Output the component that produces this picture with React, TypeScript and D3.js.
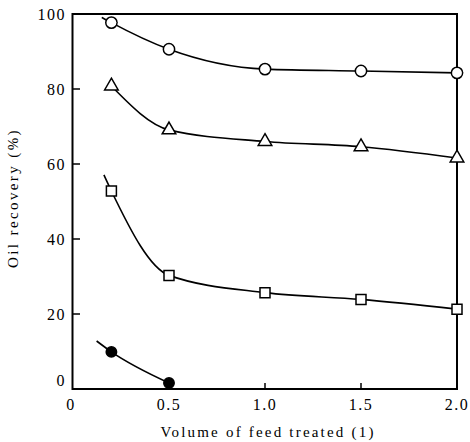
import React, { useEffect, useRef } from 'react';
import * as d3 from 'd3';

// volume of feed treated (l)
const volume = [0.2, 0.5, 1.0, 1.5, 2.0];
const volumeDot = [0.2, 0.5];

// oil recovery (%)
const recCircle = [97.7, 90.6, 85.3, 84.8, 84.3];
const recTriangle = [80.8, 69.1, 66.0, 64.6, 61.6];
const recSquare = [52.8, 30.3, 25.7, 23.9, 21.3];
const recDot = [9.9, 1.6];

// where the fitted curves start, left of the first marker
const leadCircle: [number, number] = [0.15, 99.1];
const leadSquare: [number, number] = [0.161, 57.1];
const leadDot: [number, number] = [0.123, 12.8];

const xTicks = [0, 0.5, 1.0, 1.5, 2.0];
const yTicks = [0, 20, 40, 60, 80, 100];

const FONT = "'Times New Roman', 'Liberation Serif', 'DejaVu Serif', serif";

const App: React.FC = () => {
  const ref = useRef<SVGSVGElement | null>(null);

  useEffect(() => {
    if (!ref.current) return;
    const svg = d3.select(ref.current);
    svg.selectAll('*').remove();

    const x = d3.scaleLinear().domain([0, 2]).range([73, 457]);
    const y = d3.scaleLinear().domain([0, 100]).range([389, 14]);

    // frame
    svg.append('rect')
      .attr('x', x(0) - 0.5)
      .attr('y', y(100))
      .attr('width', x(2) - x(0) + 0.5)
      .attr('height', y(0) - y(100))
      .attr('fill', 'none')
      .attr('stroke', '#000')
      .attr('stroke-width', 2);

    // inward ticks
    svg.selectAll('.yt')
      .data(yTicks.filter((d) => d > 0 && d < 100))
      .enter()
      .append('line')
      .attr('x1', x(0))
      .attr('x2', x(0) + 7)
      .attr('y1', (d) => y(d))
      .attr('y2', (d) => y(d))
      .attr('stroke', '#000')
      .attr('stroke-width', 1.5);

    svg.selectAll('.xt')
      .data(xTicks.filter((d) => d > 0 && d < 2))
      .enter()
      .append('line')
      .attr('x1', (d) => x(d))
      .attr('x2', (d) => x(d))
      .attr('y1', y(0))
      .attr('y2', y(0) - 6)
      .attr('stroke', '#000')
      .attr('stroke-width', 1.5);

    // tick labels
    svg.selectAll('.yl')
      .data(yTicks)
      .enter()
      .append('text')
      .attr('x', 66)
      .attr('y', (d) => y(d) + (d === 0 ? -9 : 0))
      .attr('dy', '0.35em')
      .attr('text-anchor', 'end')
      .style('font-family', FONT)
      .attr('font-size', 16)
      .attr('letter-spacing', 1.5)
      .text((d) => String(d));

    svg.selectAll('.xl')
      .data(xTicks)
      .enter()
      .append('text')
      .attr('x', (d) => (d === 0 ? x(d) - 2 : x(d)))
      .attr('y', 410)
      .attr('text-anchor', 'middle')
      .style('font-family', FONT)
      .attr('font-size', 16)
      .attr('letter-spacing', 1.5)
      .text((d) => (d === 0 ? '0' : d.toFixed(1)));

    // axis titles
    svg.append('text')
      .attr('x', 268)
      .attr('y', 437)
      .attr('text-anchor', 'middle')
      .style('font-family', FONT)
      .attr('font-size', 15)
      .attr('letter-spacing', 2.2)
      .text('Volume of feed treated (1)');

    svg.append('text')
      .attr('transform', 'translate(18,198) rotate(-90)')
      .attr('text-anchor', 'middle')
      .style('font-family', FONT)
      .attr('font-size', 15)
      .attr('letter-spacing', 2.4)
      .text('Oil recovery (%)');

    // curves
    const line = d3.line<[number, number]>()
      .x((d) => x(d[0]))
      .y((d) => y(d[1]))
      .curve(d3.curveMonotoneX);

    const pairs = (xs: number[], ys: number[]) =>
      xs.map((v, i) => [v, ys[i]] as [number, number]);

    const curves: [number, number][][] = [
      [leadCircle, ...pairs(volume, recCircle)],
      pairs(volume, recTriangle),
      [leadSquare, ...pairs(volume, recSquare)],
      [leadDot, ...pairs(volumeDot, recDot)],
    ];

    svg.selectAll('.curve')
      .data(curves)
      .enter()
      .append('path')
      .attr('d', (d) => line(d))
      .attr('fill', 'none')
      .attr('stroke', '#000')
      .attr('stroke-width', 1.6);

    // markers
    const marker = (
      data: [number, number][],
      type: d3.SymbolType,
      size: number,
      fill: string,
    ) => {
      svg.append('g')
        .selectAll('path')
        .data(data)
        .enter()
        .append('path')
        .attr('transform', (d) => `translate(${x(d[0])},${y(d[1])})`)
        .attr('d', d3.symbol().type(type).size(size)())
        .attr('fill', fill)
        .attr('stroke', '#000')
        .attr('stroke-width', 1.5);
    };

    marker(pairs(volume, recCircle), d3.symbolCircle, 100, '#fff');
    marker(pairs(volume, recTriangle), d3.symbolTriangle, 80, '#fff');
    marker(pairs(volume, recSquare), d3.symbolSquare, 100, '#fff');
    marker(pairs(volumeDot, recDot), d3.symbolCircle, 85, '#000');
  }, []);

  return (
    <div style={{ position: 'absolute', left: 0, top: 0 }}>
      <svg ref={ref} width={470} height={442} style={{ display: 'block', background: '#fff' }} />
    </div>
  );
};

export default App;
